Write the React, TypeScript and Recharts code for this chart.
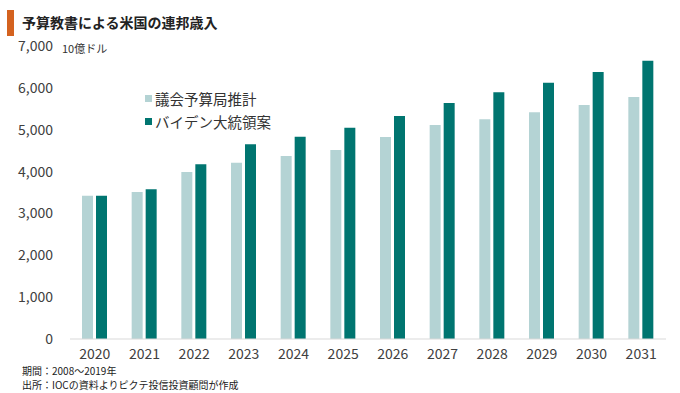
import * as React from "react";
import { BarChart, Bar, XAxis, YAxis } from "recharts";

const years = ["2020", "2021", "2022", "2023", "2024", "2025", "2026", "2027", "2028", "2029", "2030", "2031"];
const cboValues = [3420, 3510, 3990, 4210, 4370, 4515, 4825, 5110, 5250, 5415, 5590, 5780];
const bidenValues = [3425, 3575, 4175, 4650, 4830, 5045, 5330, 5640, 5895, 6125, 6380, 6650];
const yTicks = [0, 1000, 2000, 3000, 4000, 5000, 6000, 7000];

const seriesNames = { cbo: "議会予算局推計", biden: "バイデン大統領案" };
const LIGHT = "#b4d3d4";
const DARK = "#007570";
const FONT = "'Noto Sans CJK JP', 'Noto Sans', sans-serif";

const data = years.map((y, i) => ({ year: y, cbo: cboValues[i], biden: bidenValues[i] }));

function ChartLegend() {
  const items = [
    { name: seriesNames.cbo, color: LIGHT },
    { name: seriesNames.biden, color: DARK },
  ];
  return (
    <div style={{ position: "absolute", left: 145, top: 87 }}>
      {items.map((it) => (
        <div key={it.name} style={{ display: "flex", alignItems: "center", height: 23, fontSize: 14.5, color: "#333" }}>
          <span style={{ width: 7, height: 7, background: it.color, marginRight: 3, display: "inline-block" }} />
          {it.name}
        </div>
      ))}
    </div>
  );
}

export default function App() {
  return (
    <div style={{ position: "absolute", left: 0, top: 0, width: 680, height: 393, background: "#fff", fontFamily: FONT }}>
      <div style={{ position: "absolute", left: 7, top: 10, width: 7, height: 26, background: "#d4621f" }} />
      <div style={{ position: "absolute", left: 22, top: 12, fontSize: 14, fontWeight: 700, color: "#222", lineHeight: "20px" }}>
        予算教書による米国の連邦歳入
      </div>
      <div style={{ position: "absolute", left: 62, top: 40, fontSize: 11, color: "#333", lineHeight: "16px" }}>10億ドル</div>
      <BarChart
        width={680}
        height={393}
        data={data}
        margin={{ top: 46, right: 14, left: 8, bottom: 24 }}
        barGap={3}
        barSize={11}
      >
        <XAxis
          dataKey="year"
          height={30}
          tickLine={false}
          axisLine={{ stroke: "#d9d9d9" }}
          tickMargin={4}
          tick={{ fill: "#404040", fontSize: 14, fontFamily: FONT }}
          interval={0}
        />
        <YAxis
          width={62}
          domain={[0, 7000]}
          ticks={yTicks}
          tickLine={false}
          axisLine={false}
          tickMargin={11}
          tick={{ fill: "#404040", fontSize: 14, fontFamily: FONT }}
          tickFormatter={(v) => Number(v).toLocaleString("en-US")}
        />
        <Bar dataKey="cbo" name={seriesNames.cbo} fill={LIGHT} isAnimationActive={false} />
        <Bar dataKey="biden" name={seriesNames.biden} fill={DARK} isAnimationActive={false} />
      </BarChart>
      <ChartLegend />
      <div style={{ position: "absolute", left: 22, top: 364, fontSize: 10, color: "#222", lineHeight: "14px" }}>
        <div>期間：2008～2019年</div>
        <div>出所：IOCの資料よりピクテ投信投資顧問が作成</div>
      </div>
    </div>
  );
}
